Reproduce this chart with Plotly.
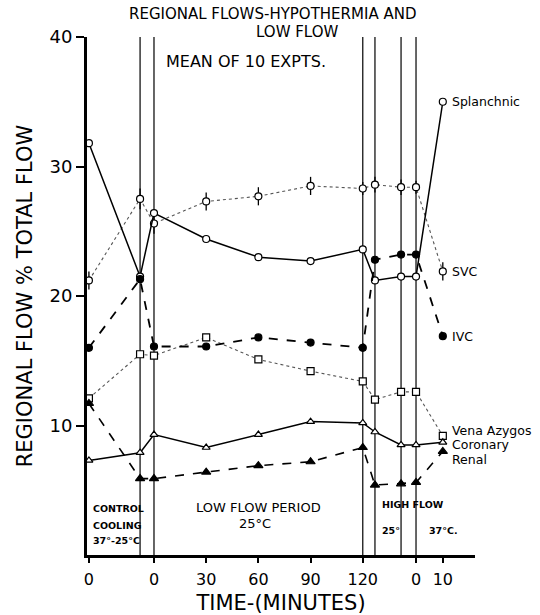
import plotly.graph_objects as go

# Sampling times on the plotted time scale (control, end of cooling,
# low-flow 0..120 min, high-flow 25°, high-flow end, rewarm 0 and 10 min)
times = [-37.4, -8.0, 0, 30, 60, 90, 120, 127, 142, 150.6, 166]
period_lines = [-8.0, 0, 120, 127, 142, 150.6]

tick_pos = [-37.4, 0, 30, 60, 90, 120, 150.6, 166]
tick_text = ["0", "0", "30", "60", "90", "120", "0", "10"]

splanchnic = [31.8, 21.5, 26.4, 24.4, 23.0, 22.7, 23.6, 21.2, 21.5, 21.5, 35.0]
svc = [21.2, 27.5, 25.6, 27.3, 27.7, 28.5, 28.3, 28.6, 28.4, 28.4, 21.9]
svc_err = [0.7, 0.8, 0.8, 0.7, 0.7, 0.7, 0.5, 0.6, 0.6, 0.5, 0.7]
ivc = [16.0, 21.3, 16.1, 16.1, 16.8, 16.4, 16.0, 22.8, 23.2, 23.2, 16.9]
vena_azygos = [12.1, 15.5, 15.4, 16.8, 15.1, 14.2, 13.4, 12.0, 12.6, 12.6, 9.2]
coronary = [7.3, 7.9, 9.3, 8.3, 9.3, 10.3, 10.2, 9.5, 8.5, 8.5, 8.7]
renal = [11.7, 5.9, 5.9, 6.4, 6.9, 7.2, 8.3, 5.4, 5.5, 5.6, 8.0]

FONT = "DejaVu Sans"
INK = "black"

fig = go.Figure()


def series(y, dash, width, color, symbol, size, filled, err=None):
    kw = {}
    if err is not None:
        kw["error_y"] = dict(type="data", array=err, visible=True,
                             thickness=1.3, width=0, color=INK)
    fig.add_trace(go.Scatter(
        x=times, y=y, mode="lines+markers",
        line=dict(color=color, width=width, dash=dash),
        marker=dict(symbol=symbol, size=size,
                    color=INK if filled else "white",
                    line=dict(color=INK, width=1.2)),
        showlegend=False, hoverinfo="skip", **kw))


series(svc, "dot", 1.1, "#555", "circle", 7, False, svc_err)
series(vena_azygos, "dot", 1.1, "#555", "square", 7, False)
series(splanchnic, "solid", 1.5, INK, "circle", 7, False)
series(ivc, "dash", 1.8, INK, "circle", 7, True)
series(coronary, "solid", 1.5, INK, "triangle-up", 7, False)
series(renal, "dash", 1.6, INK, "triangle-up", 8, True)

# vertical boundaries between experimental periods
for xp in period_lines:
    fig.add_shape(type="line", x0=xp, x1=xp, y0=0, y1=40, xref="x", yref="y",
                  line=dict(color=INK, width=1.2), layer="below")

# series names next to the final points
end_labels = [("Splanchnic", splanchnic[-1]), ("SVC", svc[-1]), ("IVC", ivc[-1]),
              ("Vena Azygos", 9.6), ("Coronary", 8.5), ("Renal", 7.4)]
for name, yv in end_labels:
    fig.add_annotation(x=170, y=yv, text=name, showarrow=False, xanchor="left",
                       yanchor="middle", font=dict(family=FONT, size=12.5, color=INK))

# period captions inside the plot
captions = [
    ("<b>CONTROL</b>", -36, 3.6, "left", 9.5),
    ("<b>COOLING</b>", -36, 2.3, "left", 9.5),
    ("<b>37°-25°C</b>", -36, 1.1, "left", 9.5),
    ("LOW FLOW PERIOD", 60, 3.7, "center", 13),
    ("25°C", 58, 2.4, "center", 13),
    ("<b>HIGH FLOW</b>", 130, 3.9, "left", 9.5),
    ("<b>25°</b>", 130, 1.9, "left", 9.5),
    ("<b>37°C.</b>", 157, 1.9, "left", 9.5),
]
for txt, xv, yv, anc, sz in captions:
    fig.add_annotation(x=xv, y=yv, text=txt, showarrow=False, xanchor=anc,
                       yanchor="middle", font=dict(family=FONT, size=sz, color=INK))

# titles
fig.add_annotation(text="REGIONAL FLOWS-HYPOTHERMIA AND",
                   x=0.477, y=1.0, xref="paper", yref="paper", xanchor="center",
                   yanchor="middle", yshift=23, showarrow=False,
                   font=dict(family=FONT, size=15, color=INK))
fig.add_annotation(text="LOW FLOW",
                   x=0.54, y=1.0, xref="paper", yref="paper", xanchor="center",
                   yanchor="middle", yshift=5, showarrow=False,
                   font=dict(family=FONT, size=15, color=INK))
fig.add_annotation(text="MEAN OF 10 EXPTS.", x=53, y=38.1, xanchor="center",
                   yanchor="middle", showarrow=False,
                   font=dict(family=FONT, size=16, color=INK))

fig.update_layout(
    width=540, height=615,
    margin=dict(l=87, r=65, t=37, b=60),
    paper_bgcolor="white", plot_bgcolor="white",
    font=dict(family=FONT, color=INK),
    xaxis=dict(range=[-38.5, 184.5], showgrid=False, zeroline=False,
               automargin=False,
               showline=True, linecolor=INK, linewidth=3,
               tickmode="array", tickvals=tick_pos, ticktext=tick_text,
               ticks="outside", ticklen=5, tickwidth=1.5, tickcolor=INK,
               ticklabelstandoff=3,
               tickfont=dict(family=FONT, size=16, color=INK),
               title=dict(text="TIME-(MINUTES)", standoff=14,
                          font=dict(family=FONT, size=21, color=INK))),
    yaxis=dict(range=[0, 40], showgrid=False, zeroline=False,
               automargin=False,
               showline=True, linecolor=INK, linewidth=3,
               tickvals=[10, 20, 30, 40], ticks="outside", ticklen=8,
               tickwidth=2, tickcolor=INK,
               tickfont=dict(family=FONT, size=18, color=INK),
               title=dict(text="REGIONAL FLOW % TOTAL FLOW", standoff=12,
                          font=dict(family=FONT, size=21, color=INK))),
)

fig.write_html("out.html")
